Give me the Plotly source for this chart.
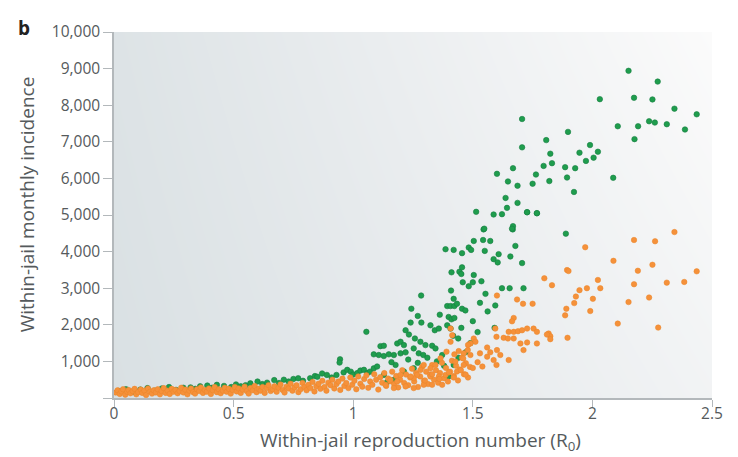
import plotly.graph_objects as go

# ---------------- data ----------------
green_low = [
    (0.02, 190), (0.05, 240), (0.08, 170), (0.11, 230), (0.14, 270), (0.17, 200), (0.20, 260),
    (0.23, 300), (0.26, 220), (0.29, 280), (0.32, 290), (0.34, 250), (0.36, 320), (0.39, 340),
    (0.41, 280), (0.43, 360), (0.46, 330), (0.49, 300), (0.51, 370), (0.53, 320), (0.55, 350),
    (0.57, 400), (0.60, 450), (0.62, 380), (0.64, 420), (0.67, 490), (0.69, 410), (0.71, 500),
    (0.73, 450), (0.75, 520), (0.77, 540), (0.79, 470), (0.82, 540), (0.84, 600), (0.85, 580),
    (0.87, 670), (0.89, 630), (0.91, 560), (0.93, 630), (0.945, 1057), (0.943, 967), (0.96, 700),
    (0.975, 770), (0.99, 720), (1.00, 640), (1.017, 680), (1.03, 750), (1.045, 770), (1.059, 680),
    (1.07, 720), (1.086, 810), (1.10, 860), (1.055, 1808),
]
green_mid = [
    (1.086, 1192), (1.107, 1174), (1.128, 1146), (1.114, 1417), (1.128, 1428), (1.149, 1192),
    (1.170, 1174), (1.198, 1220), (1.219, 1247), (1.253, 1355), (1.274, 1220), (1.293, 1174),
    (1.330, 1428), (1.344, 1355), (1.372, 1174), (1.420, 903), (1.399, 588), (1.177, 903),
    (1.212, 724), (1.253, 813), (1.128, 631), (1.170, 496), (1.142, 434), (1.184, 1490),
    (1.198, 1536), (1.212, 1445), (1.258, 1626), (1.281, 1536), (1.302, 1445), (1.219, 1851),
    (1.233, 1734), (1.240, 2060), (1.323, 1986), (1.341, 1851), (1.358, 1897), (1.393, 1986),
    (1.407, 1897), (1.418, 1699), (1.439, 1626), (1.452, 1916), (1.591, 1916), (1.562, 2366),
    (1.594, 2528), (1.399, 2214), (1.411, 2149), (1.423, 2187), (1.270, 2241), (1.285, 2060),
    (1.362, 2276), (1.243, 2439), (1.393, 2512), (1.407, 2512), (1.423, 2512), (1.420, 2710),
    (1.434, 2575), (1.455, 2439), (1.469, 2393), (1.284, 2799), (1.409, 2935), (1.553, 2846),
    (1.622, 3000), (1.654, 3000), (1.712, 3000), (1.458, 3162), (1.483, 3054), (1.500, 3162),
    (1.536, 3190), (1.504, 3360), (1.411, 3434), (1.444, 3450), (1.455, 3569), (1.452, 3388),
    (1.587, 3794), (1.604, 3705), (1.706, 3686), (1.657, 3867), (1.608, 3930), (1.678, 4155),
    (1.550, 4019), (1.386, 4065), (1.420, 4046), (1.455, 3957), (1.483, 4111), (1.493, 4046),
    (1.504, 4290), (1.543, 4317), (1.573, 4290), (1.545, 4607), (1.667, 4607), (1.889, 4490),
    (1.548, 4626), (1.668, 4696), (1.664, 4626), (1.514, 5087), (1.587, 5014), (1.622, 5022),
    (1.727, 5076), (1.768, 5049), (1.643, 5195), (1.687, 5331), (1.637, 5466), (1.647, 5916),
    (1.687, 5799), (1.601, 6125), (1.668, 6279),
    (1.16, 980), (1.23, 1050), (1.27, 960), (1.31, 1100), (1.35, 1000), (1.38, 880),
    (1.44, 1100), (1.47, 1250), (1.49, 1500), (1.52, 1800), (1.50, 2100), (1.53, 2600),
]
green_high = [
    (2.151, 8940), (2.273, 8645), (2.031, 8165), (2.174, 8203), (2.251, 8157), (2.343, 7905),
    (2.436, 7751), (1.706, 7623), (1.898, 7271), (2.106, 7425), (2.191, 7425), (2.237, 7561),
    (2.261, 7526), (2.311, 7480), (2.387, 7336), (2.176, 7073), (1.807, 7046), (1.706, 6848),
    (1.990, 6911), (1.824, 6675), (1.946, 6702), (2.023, 6729), (1.831, 6415), (1.796, 6341),
    (1.886, 6306), (1.928, 6279), (1.973, 6477), (2.005, 6566), (1.764, 6106), (1.894, 6024),
    (2.087, 6016), (1.750, 5854), (1.820, 5927), (1.923, 5629), (1.727, 5076), (1.768, 5049),
]

orange_low = [
    (0.008, 150), (0.015, 210), (0.024, 110), (0.031, 180), (0.038, 240), (0.047, 90), (0.055, 170),
    (0.061, 220), (0.069, 130), (0.078, 190), (0.086, 250), (0.093, 100), (0.101, 160), (0.112, 230),
    (0.118, 140), (0.127, 200), (0.134, 80), (0.142, 260), (0.151, 170), (0.159, 120), (0.166, 210),
    (0.175, 150), (0.183, 240), (0.192, 100), (0.199, 190), (0.208, 270), (0.216, 140), (0.224, 200),
    (0.233, 110), (0.241, 250), (0.249, 170), (0.257, 220), (0.266, 130), (0.274, 190), (0.281, 280),
    (0.290, 150), (0.298, 230), (0.307, 100), (0.315, 200), (0.322, 260), (0.331, 160), (0.339, 120),
    (0.347, 240), (0.356, 190), (0.363, 290), (0.372, 140), (0.380, 220), (0.388, 170), (0.397, 260),
    (0.405, 110), (0.413, 210), (0.421, 300), (0.430, 160), (0.438, 240), (0.446, 130), (0.455, 200),
    (0.463, 280), (0.471, 170), (0.480, 250), (0.488, 120), (0.496, 220), (0.505, 300), (0.513, 180),
    (0.521, 260), (0.530, 140), (0.538, 230), (0.546, 310), (0.555, 190), (0.563, 120), (0.571, 270),
    (0.580, 210), (0.588, 330), (0.596, 160), (0.604, 250), (0.613, 200), (0.621, 300), (0.630, 140),
    (0.638, 270), (0.646, 350), (0.655, 190), (0.663, 240), (0.671, 320), (0.680, 170), (0.688, 280),
    (0.696, 370), (0.705, 220), (0.713, 150), (0.721, 310), (0.730, 260), (0.738, 390), (0.746, 200),
    (0.755, 290), (0.763, 350), (0.771, 160), (0.780, 240), (0.788, 410), (0.796, 300), (0.805, 210),
    (0.813, 360), (0.821, 270), (0.830, 440), (0.838, 180), (0.846, 320), (0.855, 390), (0.863, 250),
    (0.871, 470), (0.880, 300), (0.888, 200), (0.896, 420), (0.905, 350), (0.913, 500), (0.921, 260),
    (0.930, 380), (0.938, 450), (0.946, 220), (0.955, 530), (0.963, 330), (0.971, 410), (0.980, 270),
    (0.988, 560), (0.996, 360), (1.005, 470), (1.013, 240), (1.021, 590), (1.030, 390), (1.038, 310),
    (1.046, 520), (1.055, 620), (1.063, 280), (1.071, 450), (1.080, 360), (1.088, 650), (1.096, 500),
    (1.105, 230), (1.113, 570), (1.121, 420), (1.130, 680), (1.138, 330), (1.146, 530), (1.155, 460),
    (1.163, 720), (1.171, 380), (1.180, 600), (1.188, 290), (1.196, 500), (1.205, 760), (1.213, 410),
    (1.221, 640), (1.230, 350), (1.238, 560), (1.246, 800), (1.255, 450), (1.263, 680), (1.271, 300),
    (1.280, 590), (1.288, 850), (1.296, 470), (1.305, 720), (1.313, 380), (1.321, 640), (1.330, 900),
    (1.338, 500), (1.346, 760), (1.355, 420), (1.363, 680), (1.371, 960), (1.380, 540), (1.388, 820),
    (1.396, 450), (1.405, 720), (1.413, 1020), (1.421, 600), (1.430, 880), (1.438, 480), (1.446, 780),
    (1.455, 1100), (1.463, 650), (1.471, 950), (1.480, 560), (1.488, 850),
]
orange_mid = [
    (1.386, 631), (1.358, 588), (1.323, 588), (1.372, 360), (1.281, 767), (1.267, 631), (1.253, 542),
    (1.240, 588), (1.198, 631), (1.184, 453), (1.156, 496), (1.135, 360), (1.170, 271), (1.219, 317),
    (1.253, 271), (1.295, 360), (1.330, 360), (1.390, 1266), (1.365, 1084), (1.344, 903), (1.323, 813),
    (1.295, 903), (1.407, 1897), (1.414, 1716), (1.407, 1536), (1.427, 995), (1.462, 903), (1.434, 724),
    (1.441, 1282), (1.423, 1192), (1.479, 1309), (1.462, 1220), (1.490, 1174), (1.504, 1626),
    (1.511, 1536), (1.490, 1490), (1.560, 1130), (1.587, 1038), (1.599, 903), (1.650, 1038),
    (1.573, 1247), (1.601, 1309), (1.615, 1174), (1.699, 1490), (1.727, 1518), (1.712, 1309),
    (1.768, 1490), (1.650, 1808), (1.671, 1808), (1.689, 1824), (1.706, 1851), (1.727, 1897),
    (1.754, 1897), (1.768, 1808), (1.817, 1762), (1.824, 1688), (1.629, 1645), (1.647, 1626),
    (1.671, 1626), (1.594, 1897), (1.599, 1672), (1.601, 2799), (1.671, 2187), (1.664, 2095),
    (1.685, 2691), (1.710, 2575), (1.750, 2575),
    (1.30, 480), (1.33, 650), (1.36, 520), (1.40, 700), (1.42, 560), (1.45, 760), (1.47, 640),
    (1.50, 820), (1.52, 980), (1.54, 860), (1.56, 1380), (1.46, 1080), (1.48, 1450), (1.53, 1220),
]
orange_high = [
    (2.343, 4534), (2.174, 4317), (2.262, 4282), (1.970, 4119), (2.088, 3748), (1.894, 3496),
    (1.900, 3469), (2.190, 3477), (2.251, 3640), (2.436, 3461), (1.799, 3271), (1.831, 3081),
    (2.023, 3225), (2.033, 3000), (1.977, 3000), (1.946, 2946), (2.174, 3108), (2.311, 3152),
    (2.384, 3171), (1.931, 2772), (2.002, 2710), (1.924, 2593), (2.151, 2621), (2.237, 2745),
    (1.891, 2439), (1.886, 2258), (1.991, 2376), (2.106, 2033), (2.275, 1924), (1.810, 1734),
    (1.824, 1607), (1.896, 1645),
]

x_ticks = [0, 0.5, 1, 1.5, 2, 2.5]
x_ticktext = ["0", "0.5", "1", "1.5", "2", "2.5"]
y_ticks = [0, 1000, 2000, 3000, 4000, 5000, 6000, 7000, 8000, 9000, 10000]
y_ticktext = [" ", "1,000", "2,000", "3,000", "4,000", "5,000", "6,000", "7,000", "8,000", "9,000", "10,000"]

green_pts = green_low + green_mid + green_high
orange_pts = orange_low + orange_mid + orange_high
green_x = [p[0] for p in green_pts]
green_y = [p[1] for p in green_pts]
orange_x = [p[0] for p in orange_pts]
orange_y = [p[1] for p in orange_pts]

X_RANGE = [0, 2.5]
Y_RANGE = [0, 10000]

FONT = "Open Sans"
TXT = "#555a5c"

fig = go.Figure()

# background gradient (decoration)
fig.add_trace(go.Heatmap(
    x=X_RANGE, y=Y_RANGE,
    z=[[0.0, 0.72], [0.12, 1.0]],
    zsmooth="best", showscale=False, hoverinfo="skip",
    colorscale=[[0, "#d9e0e3"], [0.5, "#eaedef"], [1, "#fbfbfb"]],
    zmin=0, zmax=1,
))

fig.add_trace(go.Scatter(
    x=green_x, y=green_y, mode="markers", name="green",
    marker=dict(size=5.5, color="#1f9d4d", line=dict(width=0.6, color="#157d41")),
))
fig.add_trace(go.Scatter(
    x=orange_x, y=orange_y, mode="markers", name="orange",
    marker=dict(size=5.5, color="#f5913a", line=dict(width=0.5, color="#ea8428")),
))

axis_common = dict(
    showgrid=False, zeroline=False, showline=True, linecolor="#b3b8bb", linewidth=1.5,
    ticks="outside", tickcolor="#b3b8bb", tickwidth=1.2,
    tickfont=dict(family=FONT, size=15.5, color=TXT),
)
fig.update_xaxes(range=X_RANGE, tickvals=x_ticks, ticktext=x_ticktext, ticklen=7,
                 ticklabelstandoff=-6, **axis_common)
fig.update_yaxes(range=Y_RANGE, tickvals=y_ticks, ticktext=y_ticktext, ticklen=9, **axis_common)

# page body has an 8px default margin: figure is sized so the plot area lands where the reference has it
fig.update_layout(
    width=730, height=449,
    margin=dict(l=106, r=26, t=13, b=59),
    paper_bgcolor="white", plot_bgcolor="#eef1f2",
    showlegend=False,
    font=dict(family=FONT, color=TXT),
    annotations=[
        dict(text="Within-jail reproduction number (R<sub>0</sub>)", xref="paper", yref="paper",
             x=0.512, y=-0.118, xanchor="center", yanchor="middle", showarrow=False,
             font=dict(family=FONT, size=19, color=TXT)),
        dict(text="Within-jail monthly incidence", xref="paper", yref="paper",
             x=-0.145, y=0.53, xanchor="center", yanchor="middle", textangle=-90, showarrow=False,
             font=dict(family=FONT, size=19, color=TXT)),
        dict(text="<b>b</b>", xref="paper", yref="paper",
             x=-0.151, y=1.012, xanchor="center", yanchor="middle", showarrow=False,
             font=dict(family=FONT, size=19, color="#222222")),
    ],
)

fig.write_html("out.html")
